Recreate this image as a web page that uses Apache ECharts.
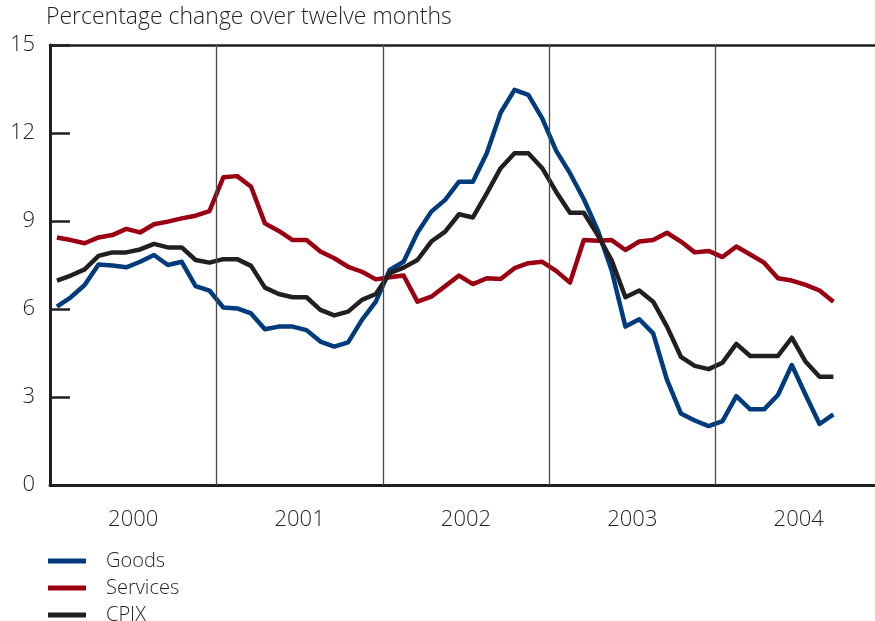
<!DOCTYPE html>
<html>
<head>
<meta charset="utf-8">
<script src="https://cdn.jsdelivr.net/npm/echarts@6/dist/echarts.min.js"></script>
<style>
  html, body { margin: 0; padding: 0; background: #fff; }
  #chart { width: 875px; height: 621px; }
</style>
</head>
<body>
<div id="chart"></div>
<script>
// monthly, Jan 2000 - Sep 2004
const years = ['2000', '2001', '2002', '2003', '2004'];

const goods = [
  6.08, 6.40, 6.82, 7.52, 7.48, 7.42, 7.61, 7.84, 7.50, 7.61, 6.78, 6.63,
  6.05, 6.02, 5.85, 5.31, 5.40, 5.40, 5.28, 4.89, 4.72, 4.86, 5.63, 6.25,
  7.33, 7.61, 8.60, 9.32, 9.72, 10.34, 10.34, 11.31, 12.69, 13.47, 13.30, 12.50,
  11.40, 10.63, 9.74, 8.69, 7.33, 5.40, 5.65, 5.17, 3.58, 2.44, 2.20, 2.01,
  2.18, 3.03, 2.58, 2.58, 3.07, 4.09, 3.07, 2.08, 2.41
];

const services = [
  8.44, 8.35, 8.24, 8.44, 8.52, 8.73, 8.61, 8.89, 8.98, 9.09, 9.18, 9.34,
  10.49, 10.53, 10.17, 8.92, 8.66, 8.35, 8.35, 7.96, 7.73, 7.44, 7.27, 7.01,
  7.08, 7.14, 6.25, 6.42, 6.78, 7.14, 6.85, 7.05, 7.02, 7.39, 7.56, 7.61,
  7.30, 6.90, 8.35, 8.33, 8.35, 8.01, 8.30, 8.35, 8.60, 8.30, 7.93, 7.98,
  7.77, 8.13, 7.86, 7.58, 7.05, 6.97, 6.82, 6.63, 6.25
];

const cpix = [
  6.97, 7.14, 7.35, 7.81, 7.93, 7.93, 8.03, 8.22, 8.10, 8.10, 7.67, 7.58,
  7.70, 7.70, 7.47, 6.73, 6.51, 6.40, 6.40, 5.97, 5.78, 5.91, 6.31, 6.51,
  7.22, 7.41, 7.67, 8.30, 8.64, 9.23, 9.12, 9.94, 10.80, 11.31, 11.31, 10.80,
  10.00, 9.28, 9.28, 8.52, 7.67, 6.40, 6.63, 6.25, 5.40, 4.37, 4.06, 3.95,
  4.17, 4.81, 4.40, 4.40, 4.40, 5.02, 4.20, 3.69, 3.69
];

const ink = '#231f20';
const font = 'Open Sans';

// month i sits in the middle of its month slot
function toPoints(arr) {
  return arr.map((v, i) => [i + 0.5, v]);
}

function lineSeries(name, arr, color) {
  return {
    name: name,
    type: 'line',
    xAxisIndex: 0,
    data: toPoints(arr),
    symbol: 'none',
    lineStyle: {color: color, width: 4.5, join: 'round'},
    itemStyle: {color: color},
    emphasis: {disabled: true}
  };
}

// thin vertical rules between the years
const yearRules = years.slice(1).map((y, k) => ({xAxis: (k + 1) * 12}));

const series = [
  lineSeries('Goods', goods, '#003c7d'),
  lineSeries('Services', services, '#9b0012'),
  lineSeries('CPIX', cpix, ink)
];
series[0].markLine = {
  silent: true,
  symbol: 'none',
  label: {show: false},
  lineStyle: {color: '#4a4a4a', width: 1.3, type: 'solid'},
  data: yearRules
};
series[0].z = 3;

const chart = echarts.init(document.getElementById('chart'));

chart.setOption({
  animation: false,
  backgroundColor: '#fff',
  textStyle: {fontFamily: font, color: ink},
  title: {
    text: 'Percentage change over twelve months',
    left: 46,
    top: 6,
    padding: 0,
    textStyle: {fontFamily: font, fontSize: 23, fontWeight: 300, color: ink}
  },
  legend: {
    orient: 'vertical',
    left: 48,
    top: 550,
    height: 100,
    padding: 0,
    itemWidth: 38,
    itemHeight: 5,
    itemGap: 5,
    icon: 'rect',
    textStyle: {fontFamily: font, fontSize: 20, fontWeight: 300, lineHeight: 22, color: ink, padding: [0, 0, 0, 15]},
    data: ['Goods', 'Services', 'CPIX']
  },
  grid: {left: 50, right: 0, top: 45, bottom: 136, containLabel: false},
  xAxis: [
    {
      type: 'value',
      min: 0,
      max: 59.5,
      interval: 6,
      position: 'bottom',
      axisLine: {show: true, lineStyle: {color: ink, width: 3}},
      axisTick: {show: false},
      splitLine: {show: false},
      axisLabel: {
        margin: 24,
        fontSize: 22,
        fontWeight: 300,
        color: ink,
        fontFamily: font,
        showMaxLabel: false,
        formatter: (v) => (v % 12 === 6 ? years[(v - 6) / 12] : '')
      }
    },
    {
      type: 'value',
      min: 0,
      max: 59.5,
      position: 'top',
      axisLine: {show: true, lineStyle: {color: ink, width: 2.5}},
      axisTick: {show: false},
      axisLabel: {show: false},
      splitLine: {show: false}
    }
  ],
  yAxis: {
    type: 'value',
    min: 0,
    max: 15,
    interval: 3,
    axisLine: {show: true, lineStyle: {color: ink, width: 3}},
    axisTick: {show: true, inside: true, length: 20, lineStyle: {color: ink, width: 2.5}},
    splitLine: {show: false},
    axisLabel: {margin: 15, fontSize: 22, fontWeight: 300, color: ink, fontFamily: font}
  },
  series: series
});
</script>
</body>
</html>
